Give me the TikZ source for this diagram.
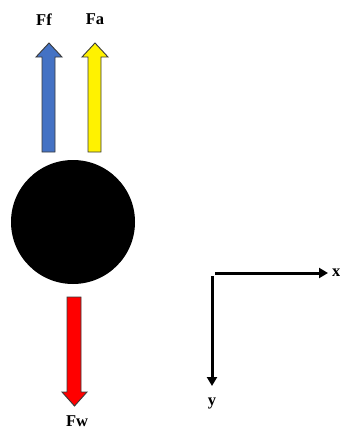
\documentclass[tikz,border=0pt]{standalone}
\usepackage{fontspec}
\setmainfont{Liberation Serif}
\usetikzlibrary{arrows.meta}
\definecolor{ffblue}{HTML}{4472C4}
\definecolor{edgegray}{HTML}{3A3A3A}
\begin{document}
\begin{tikzpicture}[x=1pt,y=-1pt,
  blockarrow/.style={draw=edgegray,line width=0.9pt,line join=miter},
  lbl/.style={font=\bfseries\fontsize{16.5}{16.5}\selectfont,inner sep=0pt},
  axis/.style={line width=3pt,-{Triangle[length=9pt,width=10pt]}}]
\useasboundingbox (0,0) rectangle (340,429);
% blue arrow Ff
\draw[blockarrow,fill=ffblue] (42,152) -- (42,57) -- (36,57) -- (49,43) -- (62,57) -- (55,57) -- (55,152) -- cycle;
% yellow arrow Fa
\draw[blockarrow,fill=yellow] (88,152) -- (88,57) -- (82,57) -- (95,43) -- (108,57) -- (101,57) -- (101,152) -- cycle;
% ball
\fill[black] (73,222) circle[radius=62];
% red arrow Fw
\draw[blockarrow,fill=red] (67,297) -- (67,392) -- (62,392) -- (74.5,406) -- (87,392) -- (81,392) -- (81,297) -- cycle;
% labels
\node[lbl] (ff) at (44,20) {Ff};
\node[lbl] (fa) at (95,19) {Fa};
\node[lbl] (fw) at (77,421) {Fw};
% axes
\coordinate (ox) at (215,273);
\coordinate (xend) at (328,273);
\coordinate (oy) at (212,276);
\coordinate (yend) at (212,386);
\draw[axis] (ox) -- (xend);
\draw[axis] (oy) -- (yend);
\node[lbl,anchor=west] (xl) at (332,273) {x};
\node[lbl] (yl) at (212,403) {y};
\end{tikzpicture}
\end{document}
